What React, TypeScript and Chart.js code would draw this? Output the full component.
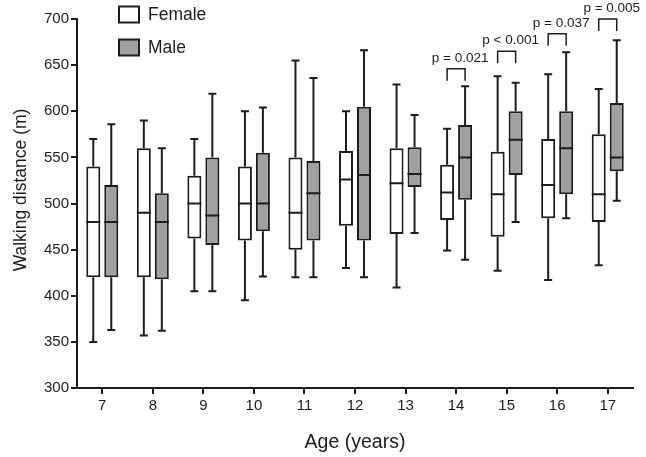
import React, { useEffect, useRef } from "react";
import { Chart, registerables } from "chart.js";

Chart.register(...registerables);

const ages = ["7", "8", "9", "10", "11", "12", "13", "14", "15", "16", "17"];

const femaleMin = [350, 357, 405, 395, 420, 430, 409, 449, 427, 417, 433];
const femaleQ1 = [420, 420, 462, 460, 450, 476, 467, 482, 464, 484, 480];
const femaleMedian = [480, 490, 500, 500, 490, 526, 522, 512, 510, 520, 510];
const femaleQ3 = [540, 560, 530, 540, 550, 557, 560, 542, 556, 570, 575];
const femaleMax = [570, 590, 570, 600, 655, 600, 629, 581, 638, 640, 624];

const maleMin = [363, 362, 405, 421, 420, 420, 468, 439, 480, 484, 503];
const maleQ1 = [420, 418, 455, 470, 460, 460, 518, 504, 531, 510, 535];
const maleMedian = [480, 480, 487, 500, 511, 531, 532, 550, 569, 560, 550];
const maleQ3 = [520, 511, 550, 555, 546, 605, 561, 585, 600, 600, 609];
const maleMax = [586, 560, 619, 604, 636, 666, 596, 627, 631, 664, 677];

const pAges = ["14", "15", "16", "17"];
const pLabels = ["p = 0.021", "p < 0.001", "p = 0.037", "p = 0.005"];
const pBracketTop = [646, 665, 684, 700];

const FONT = "'Liberation Sans', Arial, Helvetica, sans-serif";
const INK = "#1c1c1c";
const GRAY = "#a0a0a0";

const stats = [
  { min: femaleMin, med: femaleMedian, max: femaleMax },
  { min: maleMin, med: maleMedian, max: maleMax },
];

const overlayPlugin = {
  id: "boxOverlay",
  afterDatasetsDraw(chart: any) {
    const ctx = chart.ctx;
    const y = chart.scales.y;
    ctx.save();
    ctx.strokeStyle = INK;
    ctx.lineWidth = 2;
    ctx.lineCap = "butt";
    stats.forEach((s, di) => {
      const meta = chart.getDatasetMeta(di);
      meta.data.forEach((bar: any, i: number) => {
        const p = bar.getProps(["x", "y", "base", "width"], true);
        const top = Math.min(p.y, p.base);
        const bot = Math.max(p.y, p.base);
        const yMax = y.getPixelForValue(s.max[i]);
        const yMin = y.getPixelForValue(s.min[i]);
        const yMed = y.getPixelForValue(s.med[i]);
        const cap = 4;
        ctx.beginPath();
        ctx.moveTo(p.x, top);
        ctx.lineTo(p.x, yMax);
        ctx.moveTo(p.x - cap, yMax);
        ctx.lineTo(p.x + cap, yMax);
        ctx.moveTo(p.x, bot);
        ctx.lineTo(p.x, yMin);
        ctx.moveTo(p.x - cap, yMin);
        ctx.lineTo(p.x + cap, yMin);
        ctx.moveTo(p.x - p.width / 2, yMed);
        ctx.lineTo(p.x + p.width / 2, yMed);
        ctx.stroke();
      });
    });
    ctx.restore();
  },
  afterDraw(chart: any) {
    const ctx = chart.ctx;
    const x = chart.scales.x;
    const y = chart.scales.y;
    const m0 = chart.getDatasetMeta(0);
    const m1 = chart.getDatasetMeta(1);
    ctx.save();
    // p-value brackets
    ctx.strokeStyle = INK;
    ctx.lineWidth = 1.5;
    ctx.fillStyle = INK;
    ctx.font = `13.5px ${FONT}`;
    ctx.textAlign = "center";
    ctx.textBaseline = "alphabetic";
    pAges.forEach((a, k) => {
      const idx = ages.indexOf(a);
      const x0 = m0.data[idx].x;
      const x1 = m1.data[idx].x;
      const yt = y.getPixelForValue(pBracketTop[k]);
      ctx.beginPath();
      ctx.moveTo(x0, yt + 12);
      ctx.lineTo(x0, yt);
      ctx.lineTo(x1, yt);
      ctx.lineTo(x1, yt + 12);
      ctx.stroke();
      ctx.fillText(pLabels[k], (x0 + x1) / 2 + 4, yt - 7);
    });
    // legend
    const legend = [
      { label: "Female", fill: "#ffffff", y: 6.5 },
      { label: "Male", fill: GRAY, y: 39.5 },
    ];
    ctx.lineWidth = 2;
    ctx.font = `17.5px ${FONT}`;
    ctx.textAlign = "left";
    legend.forEach((l) => {
      ctx.fillStyle = l.fill;
      ctx.fillRect(119, l.y, 20, 16);
      ctx.strokeRect(119, l.y, 20, 16);
      ctx.fillStyle = INK;
      ctx.fillText(l.label, 148, l.y + 13.5);
    });
    // axis titles
    ctx.font = `17.5px ${FONT}`;
    ctx.textAlign = "center";
    ctx.textBaseline = "middle";
    ctx.save();
    ctx.translate(21, 190);
    ctx.rotate(-Math.PI / 2);
    ctx.fillText("Walking distance (m)", 0, 0);
    ctx.restore();
    ctx.font = `19.5px ${FONT}`;
    ctx.fillText("Age (years)", (x.left + x.right) / 2, 443);
    ctx.restore();
  },
};

export default function App() {
  const ref = useRef<HTMLCanvasElement | null>(null);
  useEffect(() => {
    if (!ref.current) return;
    const chart = new Chart(ref.current, {
      type: "bar",
      data: {
        labels: ages,
        datasets: [
          {
            label: "Female",
            data: femaleQ1.map((q, i) => [q, femaleQ3[i]]),
            backgroundColor: "#ffffff",
            borderColor: INK,
            borderWidth: 2,
            borderSkipped: false,
          },
          {
            label: "Male",
            data: maleQ1.map((q, i) => [q, maleQ3[i]]),
            backgroundColor: GRAY,
            borderColor: INK,
            borderWidth: 2,
            borderSkipped: false,
          },
        ],
      } as any,
      options: {
        responsive: false,
        animation: false,
        devicePixelRatio: 1,
        categoryPercentage: 0.712,
        barPercentage: 0.778,
        layout: { padding: { left: 0, right: 13, top: 19, bottom: 0 } },
        plugins: {
          legend: { display: false },
          tooltip: { enabled: false },
          title: { display: false },
        },
        scales: {
          x: {
            type: "category",
            offset: true,
            grid: {
              display: true,
              offset: false,
              drawOnChartArea: false,
              drawTicks: true,
              tickLength: 6,
              lineWidth: 2,
              color: INK,
            },
            border: { display: true, width: 2, color: INK },
            ticks: {
              color: INK,
              font: { family: FONT, size: 15 },
              padding: 3,
              maxRotation: 0,
            },
            afterFit: (s: any) => {
              s.height = 69;
            },
          },
          y: {
            type: "linear",
            min: 300,
            max: 700,
            grid: {
              display: true,
              drawOnChartArea: false,
              drawTicks: true,
              tickLength: 6,
              lineWidth: 2,
              color: INK,
            },
            border: { display: true, width: 2, color: INK },
            ticks: {
              stepSize: 50,
              color: INK,
              font: { family: FONT, size: 15 },
              padding: 2,
            },
            afterFit: (s: any) => {
              s.width = 77;
            },
          },
        },
      } as any,
      plugins: [overlayPlugin],
    });
    return () => chart.destroy();
  }, []);
  return (
    <div style={{ position: "fixed", left: 0, top: 0, width: 646, height: 457, background: "#fff" }}>
      <canvas ref={ref} width={646} height={457} style={{ display: "block" }} />
    </div>
  );
}
